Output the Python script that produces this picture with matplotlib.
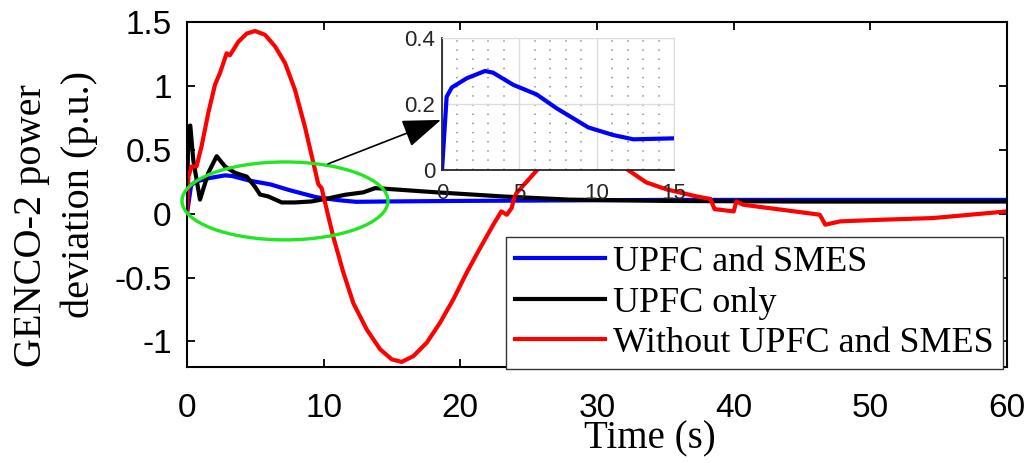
import matplotlib
matplotlib.use("Agg")
import matplotlib.pyplot as plt
from matplotlib.patches import Ellipse
from matplotlib.ticker import MultipleLocator

# ---- data -------------------------------------------------------------
# UPFC and SMES
t_blue = [0.0, 0.3, 0.63, 1.6, 2.78, 3.3, 4.61, 6.12, 7.41, 9.46, 11.07,
          12.37, 15.0, 20.0, 35.0, 60.0]
p_blue = [0.0, 0.222, 0.25, 0.278, 0.30, 0.295, 0.258, 0.229, 0.187, 0.129,
          0.106, 0.093, 0.096, 0.10, 0.108, 0.108]

# UPFC only
t_black = [0.0, 0.1, 0.24, 0.46, 0.95, 1.56, 2.17, 2.78, 3.51, 4.37, 4.98,
           5.34, 5.95, 6.93, 7.9, 9.12, 10.34, 11.56, 12.9, 13.76, 14.4,
           18.3, 23.1, 28.0, 35.0, 45.0, 60.0]
p_black = [0.05, 0.68, 0.69, 0.42, 0.11, 0.32, 0.45, 0.37, 0.32, 0.29, 0.21,
           0.15, 0.135, 0.088, 0.088, 0.096, 0.12, 0.148, 0.167, 0.20, 0.196,
           0.167, 0.135, 0.11, 0.10, 0.095, 0.095]

# Without UPFC and SMES
t_red = [0.0, 0.1, 0.34, 0.7, 1.07, 1.56, 2.05, 2.41, 2.9, 3.14, 3.76, 4.37,
         4.98, 5.71, 6.44, 7.17, 7.9, 8.63, 9.24, 9.61, 9.85, 10.34, 10.7,
         11.44, 12.17, 13.15, 14.12, 14.98, 15.71, 16.56, 17.54, 18.51,
         19.49, 20.47, 21.44, 22.41, 23.0, 23.4, 23.76, 23.9, 24.1, 25.6,
         27.0, 28.5, 30.0, 31.5, 32.3, 33.6, 35.1, 37.3, 38.3, 38.6, 40.0,
         40.2, 40.7, 43.6, 46.3, 46.7, 47.8, 50.9, 54.6, 60.0]
p_red = [0.0, 0.29, 0.37, 0.37, 0.53, 0.79, 1.01, 1.10, 1.255, 1.24, 1.346,
         1.41, 1.43, 1.40, 1.31, 1.18, 0.97, 0.68, 0.40, 0.23, 0.20, -0.02,
         -0.18, -0.46, -0.70, -0.906, -1.06, -1.14, -1.16, -1.115, -1.01,
         -0.854, -0.67, -0.46, -0.27, -0.086, 0.018, -0.008, 0.045, 0.11,
         0.16, 0.34, 0.45, 0.52, 0.50, 0.40, 0.34, 0.245, 0.19, 0.135, 0.115,
         0.036, 0.018, 0.096, 0.07, 0.03, -0.008, -0.086, -0.06, -0.047,
         -0.034, 0.018]

labels = ["UPFC and SMES", "UPFC only", "Without UPFC and SMES"]
colors = ["#0000ff", "#000000", "#ff0000"]

x_ticks = [0, 10, 20, 30, 40, 50, 60]
y_ticks = [-1, -0.5, 0, 0.5, 1, 1.5]
y_tick_labels = ["-1", "-0.5", "0", "0.5", "1", "1.5"]

inset_x_ticks = [0, 5, 10, 15]
inset_y_ticks = [0, 0.2, 0.4]
inset_y_tick_labels = ["0", "0.2", "0.4"]

# ---- figure -----------------------------------------------------------
SANS = "Liberation Sans"
SERIF = "Liberation Serif"

fig = plt.figure(figsize=(10.32, 4.63), dpi=100)
ax = fig.add_axes([0.1812, 0.2073, 0.7946, 0.7451])

lw = 3.0
ax.plot(t_blue, p_blue, color=colors[0], lw=lw, label=labels[0])
ax.plot(t_black, p_black, color=colors[1], lw=lw, label=labels[1])
ax.plot(t_red, p_red, color=colors[2], lw=lw, label=labels[2])

ax.set_xlim(0, 60)
ax.set_ylim(-1.2, 1.5)
ax.set_xticks(x_ticks)
ax.set_xticklabels([str(v) for v in x_ticks], fontfamily=SANS, fontsize=24)
ax.set_yticks(y_ticks)
ax.set_yticklabels(y_tick_labels, fontfamily=SANS, fontsize=24)
ax.tick_params(axis="both", direction="in", length=6, width=1.3,
               top=True, right=True)
ax.tick_params(axis="x", pad=19)
ax.tick_params(axis="y", pad=11)
for s in ax.spines.values():
    s.set_linewidth(1.5)

ax.set_xlabel("Time (s)", fontfamily=SERIF, fontsize=28)
ax.xaxis.set_label_coords(0.565, -0.155)

# two-line vertical axis title
ax.text(-0.19, 0.41, "GENCO-2 power", rotation=90, transform=ax.transAxes,
        ha="center", va="center", fontfamily=SERIF, fontsize=29)
ax.text(-0.132, 0.50, "deviation (p.u.)", rotation=90, transform=ax.transAxes,
        ha="center", va="center", fontfamily=SERIF, fontsize=29)

# highlight of the early transient
ell = Ellipse((7.17, 0.10), 15.07, 0.61, fill=False, edgecolor="#22e622",
              lw=2.4, zorder=5, clip_on=False)
ax.add_patch(ell)

ax.annotate("", xy=(18.58, 0.734), xytext=(10.32, 0.39),
            arrowprops=dict(arrowstyle="-|>,head_length=1.1,head_width=0.4",
                            color="black", lw=1.2, mutation_scale=22,
                            shrinkA=0, shrinkB=0),
            zorder=6)

leg = ax.legend(loc="lower right", bbox_to_anchor=(0.995, -0.006),
                borderaxespad=0, prop={"family": SERIF, "size": 26},
                handlelength=2.5, handletextpad=0.22, labelspacing=0.2,
                borderpad=0.25, fancybox=False, framealpha=1)
leg.get_frame().set_edgecolor("#333333")
leg.get_frame().set_linewidth(1.0)
leg.set_zorder(10)

# ---- zoomed inset -----------------------------------------------------
axi = fig.add_axes([0.4283, 0.6328, 0.2248, 0.2851])
axi.plot(t_blue, p_blue, color=colors[0], lw=lw)
axi.set_xlim(0, 15)
axi.set_ylim(0, 0.4)
axi.set_xticks(inset_x_ticks)
axi.set_xticklabels([str(v) for v in inset_x_ticks], fontfamily=SANS,
                    fontsize=16, color="#262626")
axi.set_yticks(inset_y_ticks)
axi.set_yticklabels(inset_y_tick_labels, fontfamily=SANS, fontsize=16,
                    color="#262626")
axi.xaxis.set_minor_locator(MultipleLocator(1))
axi.grid(which="major", color="#dcdcdc", lw=1.0)
axi.grid(which="minor", axis="x", color="#a8a8a8", lw=1.5,
         linestyle=(0, (0.7, 3.7)))
axi.tick_params(which="both", direction="in", length=0, colors="#262626")
axi.tick_params(axis="x", pad=9)
axi.tick_params(axis="y", pad=5)
axi.set_axisbelow(True)
axi.spines["left"].set_color("#262626")
axi.spines["bottom"].set_color("#262626")
axi.spines["left"].set_linewidth(1.3)
axi.spines["bottom"].set_linewidth(1.3)
axi.spines["top"].set_color("#dcdcdc")
axi.spines["right"].set_color("#dcdcdc")

fig.savefig("out.png", dpi=100)
